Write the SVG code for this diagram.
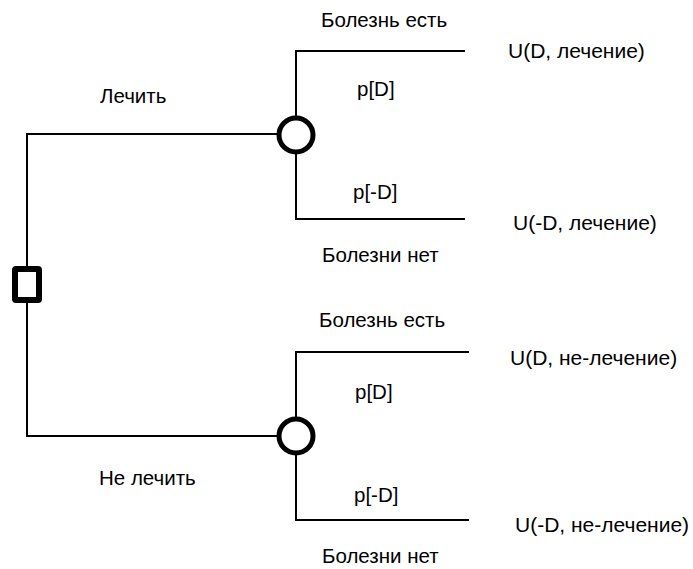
<svg xmlns="http://www.w3.org/2000/svg" width="693" height="569" viewBox="0 0 693 569">
  <style>
    .edge { fill: none; stroke: #000; stroke-width: 2; }
    .chance { fill: #fff; stroke: #000; stroke-width: 5; }
    .decision { fill: #fff; stroke: #000; stroke-width: 6; }
    text { font-family: "Liberation Sans", Arial, sans-serif; font-size: 20.5px; fill: #000; }
    .util { font-size: 21px; }
  </style>
  <rect width="693" height="569" fill="#fff"/>

  <!-- connectors -->
  <g id="connectors">
    <!-- decision to chance nodes -->
    <polyline class="edge" points="27,266 27,134 296,134"/>
    <polyline class="edge" points="27,303 27,436 296,436"/>
    <!-- upper chance branches -->
    <polyline class="edge" points="465,51 296,51 296,219 465,219"/>
    <!-- lower chance branches -->
    <polyline class="edge" points="469,352 296,352 296,520 469,520"/>
  </g>

  <g id="decision">
    <rect class="decision" x="15" y="269" width="24" height="31" rx="1"/>
  </g>

  <g id="chance-treat">
    <circle class="chance" cx="296" cy="135" r="17"/>
  </g>

  <g id="chance-notreat">
    <circle class="chance" cx="296" cy="436" r="17"/>
  </g>

  <g id="labels">
    <text x="100" y="103">Лечить</text>
    <text x="99" y="485">Не лечить</text>

    <text x="321" y="27">Болезнь есть</text>
    <text x="357" y="96">p[D]</text>
    <text x="353" y="199">p[-D]</text>
    <text x="322" y="262">Болезни нет</text>

    <text x="319" y="327">Болезнь есть</text>
    <text x="355" y="399">p[D]</text>
    <text x="354" y="502">p[-D]</text>
    <text x="322" y="563">Болезни нет</text>
  </g>

  <g id="outcomes">
    <text class="util" x="508" y="58">U(D, лечение)</text>
    <text class="util" x="513" y="230">U(-D, лечение)</text>
    <text class="util" x="510" y="365">U(D, не-лечение)</text>
    <text class="util" x="515" y="532">U(-D, не-лечение)</text>
  </g>
</svg>
